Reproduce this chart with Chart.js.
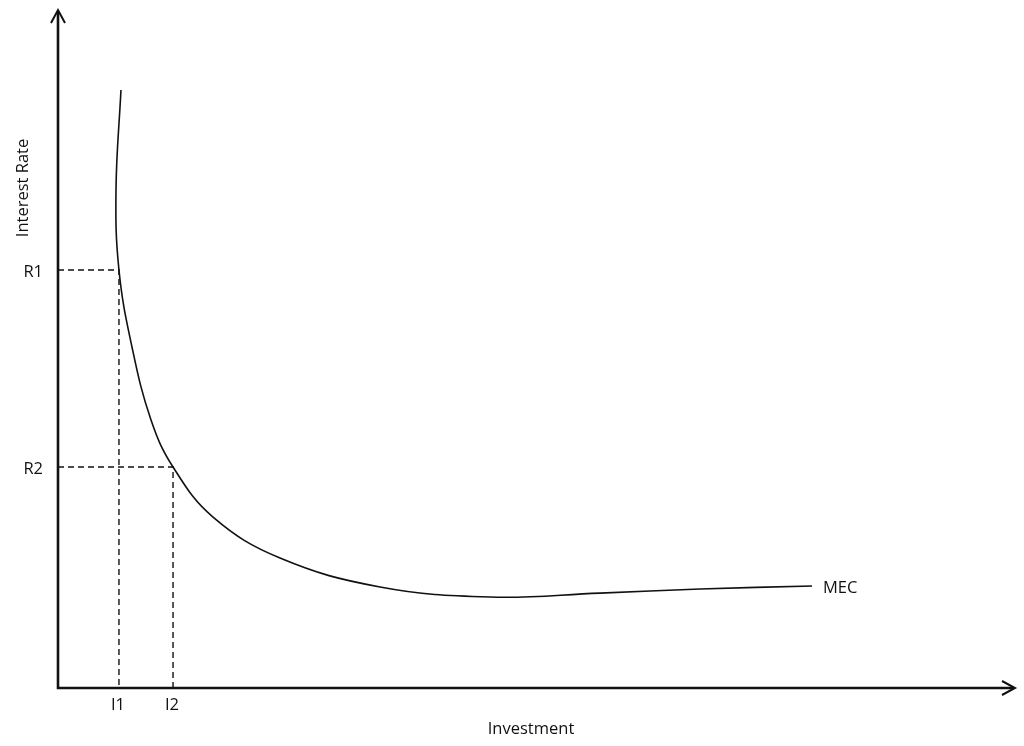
<!DOCTYPE html>
<html>
<head>
<meta charset="utf-8">
<script src="https://cdn.jsdelivr.net/npm/chart.js@4.4.0/dist/chart.umd.min.js"></script>
<style>
  html, body { margin: 0; padding: 0; background: #fff; }
  #wrap { width: 1024px; height: 746px; }
</style>
</head>
<body>
<div id="wrap"><canvas id="myChart"></canvas></div>
<script>
// MEC curve (investment vs interest rate, 0..100 units)
const mecX = [6.58, 6.06, 6.37, 7.73, 9.72, 12.02, 16.2, 23.2, 33.65, 45.14, 56.64, 67.08, 78.79];
const mecY = [88.2, 73.45, 61.65, 50.3, 39.53, 32.6, 25.2, 19.17, 14.9, 13.42, 14.0, 14.6, 15.04];

// marked levels
const rateLabels = ["R1", "R2"];
const rateValues = [61.65, 32.6];
const invLabels = ["I1", "I2"];
const invValues = [6.37, 12.02];

const font = "'Open Sans', 'DejaVu Sans', sans-serif";

const guides = {
  id: "guides",
  afterDraw(chart) {
    const ctx = chart.ctx;
    const x = chart.scales.x;
    const y = chart.scales.y;
    const x0 = x.getPixelForValue(0);
    const y0 = y.getPixelForValue(0);
    const xEnd = x.getPixelForValue(100);
    const yEnd = y.getPixelForValue(100);

    ctx.save();
    // dashed guide lines
    ctx.strokeStyle = "#111";
    ctx.lineWidth = 1.4;
    ctx.setLineDash([6, 4]);
    rateValues.forEach((r, i) => {
      const py = y.getPixelForValue(r);
      const px = x.getPixelForValue(invValues[i]);
      ctx.beginPath();
      ctx.moveTo(x0, py);
      ctx.lineTo(px, py);
      ctx.lineTo(px, y0);
      ctx.stroke();
    });
    ctx.setLineDash([]);

    // axes with arrow heads
    ctx.lineWidth = 2.6;
    ctx.beginPath();
    ctx.moveTo(x0, y0);
    ctx.lineTo(x0, yEnd + 2);
    ctx.moveTo(x0 - 1.3, y0);
    ctx.lineTo(xEnd - 2, y0);
    ctx.stroke();
    ctx.lineWidth = 2;
    ctx.beginPath();
    ctx.moveTo(x0 - 7, yEnd + 13);
    ctx.lineTo(x0, yEnd);
    ctx.lineTo(x0 + 7, yEnd + 13);
    ctx.moveTo(xEnd - 13, y0 - 7);
    ctx.lineTo(xEnd, y0);
    ctx.lineTo(xEnd - 13, y0 + 7);
    ctx.stroke();

    // tick labels
    ctx.fillStyle = "#111";
    ctx.font = "16.5px " + font;
    ctx.textBaseline = "alphabetic";
    ctx.textAlign = "right";
    rateValues.forEach((r, i) => {
      ctx.fillText(rateLabels[i], 43, y.getPixelForValue(r) + 7);
    });
    ctx.textAlign = "center";
    invValues.forEach((v, i) => {
      ctx.fillText(invLabels[i], x.getPixelForValue(v) - 1, 710);
    });

    // axis titles
    ctx.fillText("Investment", 531, 734);
    ctx.save();
    ctx.translate(28, 188);
    ctx.rotate(-Math.PI / 2);
    ctx.fillText("Interest Rate", 0, 0);
    ctx.restore();

    // curve label
    const last = mecX.length - 1;
    ctx.textAlign = "left";
    ctx.fillText("MEC", x.getPixelForValue(mecX[last]) + 11, y.getPixelForValue(mecY[last]) + 7);
    ctx.restore();
  },
};

const ctx = document.getElementById("myChart").getContext("2d");
const myChart = new Chart(ctx, {
  type: "scatter",
  data: {
    datasets: [
      {
        label: "MEC",
        data: mecX.map((v, i) => ({ x: v, y: mecY[i] })),
        showLine: true,
        borderColor: "#111",
        borderWidth: 1.6,
        pointRadius: 0,
        tension: 0.4,
        fill: false,
      },
    ],
  },
  options: {
    responsive: true,
    maintainAspectRatio: false,
    animation: false,
    layout: {
      padding: { left: 58, top: 10, right: 9, bottom: 58 },
    },
    scales: {
      x: { type: "linear", min: 0, max: 100, display: false },
      y: { type: "linear", min: 0, max: 100, display: false },
    },
    plugins: {
      legend: false,
      tooltip: { enabled: false },
    },
  },
  plugins: [guides],
});
</script>
</body>
</html>
